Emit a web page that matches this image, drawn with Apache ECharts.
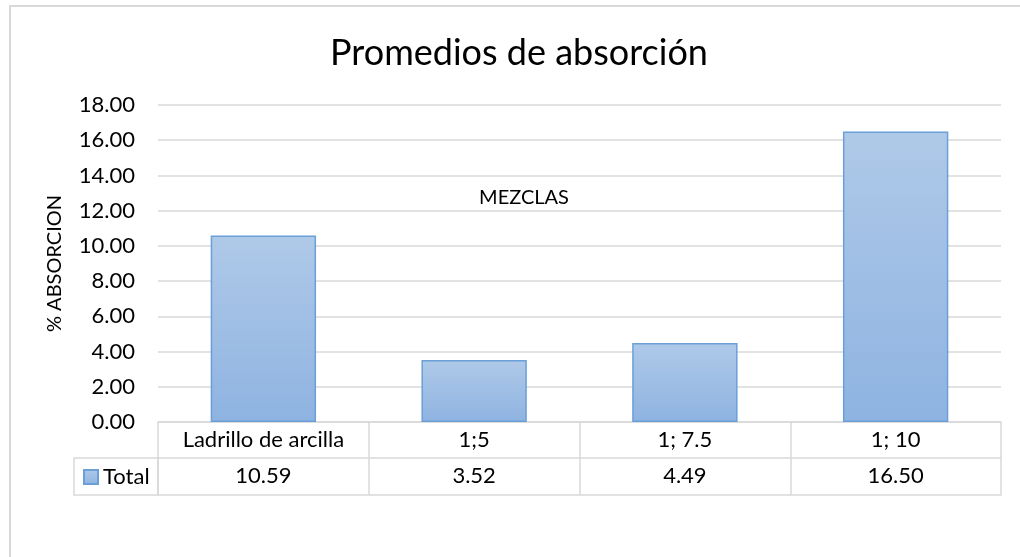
<!DOCTYPE html>
<html>
<head>
<meta charset="utf-8">
<script src="https://cdn.jsdelivr.net/npm/echarts@6/dist/echarts.min.js"></script>
<style>
  html, body { margin: 0; padding: 0; background: #fff; }
  #main { width: 1020px; height: 557px; }
</style>
</head>
<body>
<div id="main"></div>
<script>
var categories = ['Ladrillo de arcilla', '1;5', '1; 7.5', '1; 10'];
var totals = [10.59, 3.52, 4.49, 16.50];
var yMin = 0, yMax = 18, yStep = 2;

var fontName = 'Lato';
var gridColor = '#d9d9d9';

var chartDom = document.getElementById('main');
var myChart = echarts.init(chartDom);
var option;

var barFill = new echarts.graphic.LinearGradient(0, 0, 0, 1, [
  { offset: 0, color: '#afc9e8' },
  { offset: 1, color: '#8eb3e1' }
]);

option = {
  backgroundColor: '#fff',
  textStyle: { fontFamily: fontName },
  title: [
    {
      text: 'Promedios de absorción',
      left: 519,
      textAlign: 'center',
      top: 35,
      padding: 0,
      textStyle: { fontFamily: fontName, fontSize: 36, fontWeight: 'normal', color: '#000' }
    },
    {
      text: 'MEZCLAS',
      left: 524,
      textAlign: 'center',
      top: 188,
      padding: 0,
      textStyle: { fontFamily: fontName, fontSize: 20, fontWeight: 'normal', color: '#000' }
    }
  ],
  legend: {
    left: 83,
    top: 466,
    padding: 0,
    icon: 'rect',
    itemWidth: 14,
    itemHeight: 14,
    textStyle: { fontFamily: fontName, fontSize: 22, color: '#000' },
    data: ['Total']
  },
  grid: {
    left: 158,
    right: 19,
    top: 105,
    bottom: 135
  },
  xAxis: [
    {
      type: 'category',
      position: 'bottom',
      data: categories,
      axisLine: { show: true, lineStyle: { color: gridColor, width: 1.5 } },
      axisTick: { show: true, interval: 0, length: 73, lineStyle: { color: gridColor, width: 1.5 } },
      axisLabel: {
        interval: 0,
        margin: 18,
        verticalAlign: 'middle',
        fontFamily: fontName,
        fontSize: 22,
        color: '#000'
      }
    },
    {
      type: 'category',
      position: 'bottom',
      offset: 36,
      data: totals.map(function (v) { return v.toFixed(2); }),
      axisLine: { show: true, lineStyle: { color: gridColor, width: 1.5 } },
      axisTick: { show: false },
      axisLabel: {
        interval: 0,
        margin: 18,
        verticalAlign: 'middle',
        fontFamily: fontName,
        fontSize: 22,
        color: '#000'
      }
    },
    {
      type: 'category',
      position: 'bottom',
      offset: 73,
      data: categories,
      axisLine: { show: true, lineStyle: { color: gridColor, width: 1.5 } },
      axisTick: { show: false },
      axisLabel: { show: false }
    }
  ],
  yAxis: {
    type: 'value',
    min: yMin,
    max: yMax,
    interval: yStep,
    name: '% ABSORCION',
    nameLocation: 'middle',
    nameGap: 93,
    nameTextStyle: { fontFamily: fontName, fontSize: 20, color: '#000' },
    axisLine: { show: false },
    axisTick: { show: false },
    axisLabel: {
      margin: 23,
      fontFamily: fontName,
      fontSize: 22,
      color: '#000',
      formatter: function (v) { return v.toFixed(2); }
    },
    splitLine: { lineStyle: { color: gridColor, width: 1.5 } }
  },
  graphic: [
    {
      type: 'rect',
      shape: { x: 10, y: 6, width: 1040, height: 580 },
      style: { fill: 'none', stroke: gridColor, lineWidth: 2 },
      silent: true
    },
    {
      type: 'rect',
      shape: { x: 74, y: 458, width: 84, height: 37 },
      style: { fill: 'none', stroke: gridColor, lineWidth: 1.5 },
      silent: true
    }
  ],
  series: [
    {
      name: 'Total',
      type: 'bar',
      xAxisIndex: 0,
      barCategoryGap: '50%',
      itemStyle: {
        color: barFill,
        borderColor: '#6a9fd8',
        borderWidth: 1.5
      },
      data: totals
    }
  ]
};

myChart.setOption(option);
</script>
</body>
</html>
